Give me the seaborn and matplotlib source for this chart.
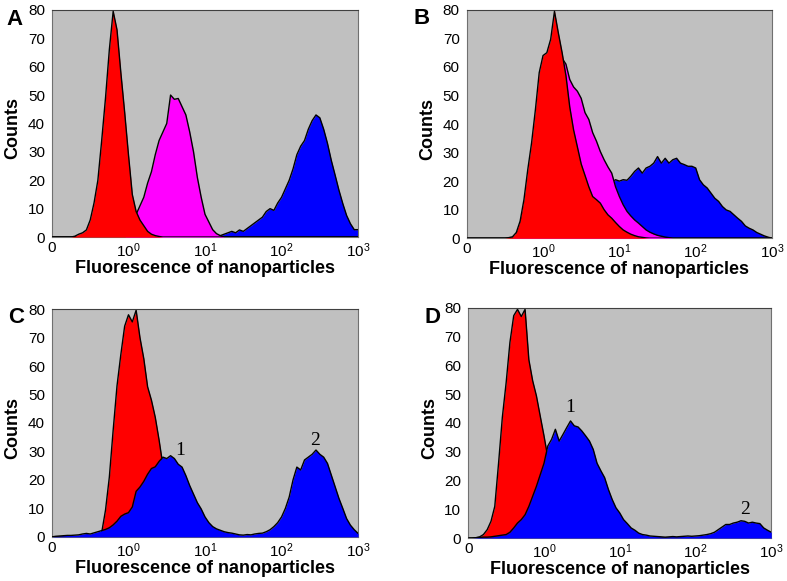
import numpy as np
import matplotlib
matplotlib.use("Agg")
import matplotlib.pyplot as plt
import seaborn as sns

# channel positions: log10 of fluorescence, -1 (shown as "0") to 3
log_channel = np.linspace(-1, 3, 81)
fluor = 10 ** log_channel

# ---- panel A ----
a_red = [0, 0, 0, 0, 0, 0, 0.3, 1, 1.5, 2.5,
         6, 12, 20, 34, 49, 66, 79.5, 73, 58, 44,
         29, 15, 9, 6, 4, 2, 1, 0.5, 0.2, 0,
         0, 0, 0, 0, 0, 0, 0, 0, 0, 0,
         0, 0, 0, 0, 0, 0, 0, 0, 0, 0,
         0, 0, 0, 0, 0, 0, 0, 0, 0, 0,
         0, 0, 0, 0, 0, 0, 0, 0, 0, 0,
         0, 0, 0, 0, 0, 0, 0, 0, 0, 0,
         0]
a_magenta = [0, 0, 0, 0, 0, 0, 0, 0, 0, 0,
             0, 0, 0, 0, 0, 0, 0, 0, 0, 0,
             0.5, 3, 8, 11, 14, 19, 23, 29, 34, 37,
             40, 50, 48.5, 48.8, 45.9, 43, 37, 30, 21, 14,
             8, 5.3, 2.6, 1.2, 0.5, 0, 0, 0, 0, 0,
             0, 0, 0, 0, 0, 0, 0, 0, 0, 0,
             0, 0, 0, 0, 0, 0, 0, 0, 0, 0,
             0, 0, 0, 0, 0, 0, 0, 0, 0, 0,
             0]
a_blue = [0, 0, 0, 0, 0, 0, 0, 0, 0, 0,
          0, 0, 0, 0, 0, 0, 0, 0, 0, 0,
          0, 0, 0, 0, 0, 0, 0, 0, 0, 0,
          0, 0, 0, 0, 0, 0, 0, 0, 0, 0,
          0, 0, 0, 0.3, 0.5, 1, 1.5, 2, 1.5, 2.5,
          2, 3, 4, 5, 6, 7, 9, 10, 9.4, 12,
          14, 17, 20, 24, 29, 32, 34, 38, 41, 43,
          42, 38, 33, 27, 21.8, 16.5, 11.8, 7.6, 4.7, 2.6,
          2.6]

# ---- panel B ----
b_red = [0, 0, 0, 0, 0, 0, 0, 0, 0, 0,
         0, 0.2, 0.5, 2, 6, 13.5, 24, 33.4, 45, 58,
         64, 65, 69.7, 79.5, 72, 65, 57, 46, 38, 32,
         26, 22, 18, 14.6, 13.5, 12.3, 10, 8.2, 7, 5.5,
         4.1, 2.9, 2.1, 1.4, 0.9, 0.5, 0.3, 0.1, 0, 0,
         0, 0, 0, 0, 0, 0, 0, 0, 0, 0,
         0, 0, 0, 0, 0, 0, 0, 0, 0, 0,
         0, 0, 0, 0, 0, 0, 0, 0, 0, 0,
         0]
b_magenta = [0, 0, 0, 0, 0, 0, 0, 0, 0, 0,
             0, 0, 0, 1, 4, 10, 18, 27, 36, 44,
             50, 54, 57, 59, 62, 63, 61, 55.6, 53, 51.5,
             49, 44, 41.6, 37, 34, 30.4, 27.5, 25, 22.8, 18,
             14.6, 11.7, 9.4, 7.8, 6.4, 5.3, 4.1, 2.9, 2.1, 1.5,
             1.0, 0.7, 0.4, 0.2, 0, 0, 0, 0, 0, 0,
             0, 0, 0, 0, 0, 0, 0, 0, 0, 0,
             0, 0, 0, 0, 0, 0, 0, 0, 0, 0,
             0]
b_blue = [0, 0, 0, 0, 0, 0, 0, 0, 0, 0,
          0, 0, 0, 0, 0, 0, 0.5, 1, 1.5, 2,
          3, 4, 5, 6, 7, 8, 9, 10, 11, 12,
          13, 14, 15, 16, 17, 18, 18.5, 19, 19.5, 20.5,
          20, 20.5, 20.3, 21.7, 23.4, 24.6, 22.8, 24.6, 25.2, 26.3,
          28.6, 26.3, 28, 26.3, 27.5, 28, 26.3, 25.8, 25.2, 25.2,
          24.6, 20.5, 18.7, 17.6, 15.8, 14, 12.9, 11.1, 9.9, 9.4,
          8.2, 7, 5.9, 4.3, 3.5, 2.9, 2, 1.4, 0.8, 0.35,
          0]

# ---- panel C ----
c_red = [0, 0, 0, 0, 0, 0, 0, 0, 0, 0,
         0, 0, 0.3, 1.5, 9.4, 21, 37.5, 53, 64, 74,
         78, 75.5, 79.6, 70, 62.6, 52.7, 48, 42, 34, 25,
         17, 10, 5, 2, 1, 0, 0, 0, 0, 0,
         0, 0, 0, 0, 0, 0, 0, 0, 0, 0,
         0, 0, 0, 0, 0, 0, 0, 0, 0, 0,
         0, 0, 0, 0, 0, 0, 0, 0, 0, 0,
         0, 0, 0, 0, 0, 0, 0, 0, 0, 0,
         0]
c_blue = [0, 0.2, 0.3, 0.4, 0.5, 0.5, 0.6, 0.7, 1.0, 1.2,
          1.0, 1.4, 1.8, 2.2, 2.6, 3.2, 4.2, 5.5, 7.2, 8.0,
          8.5, 10.5, 16, 17.5, 19.5, 22, 24, 24.6, 26.5, 28,
          27.5, 28.5, 27.5, 25.5, 24.5, 21.5, 18, 15, 12, 9.8,
          7, 5, 3.6, 2.8, 2.3, 1.8, 1.5, 1.3, 1.0, 0.7,
          0.6, 0.8, 0.7, 1.0, 1.2, 1.3, 1.8, 2.5, 3.6, 5,
          7, 10, 14, 20, 24.5, 23.5, 27, 28, 29, 30.5,
          29, 28, 25.8, 21.7, 17.6, 13.5, 10, 6.4, 4.1, 2.5,
          1.2]

# ---- panel D ----
d_red = [0, 0, 0.1, 0.4, 1.2, 2.9, 5.8, 11, 26, 42,
         54, 68, 77.3, 79.5, 77, 79.5, 62, 54.7, 49.4, 42.4,
         35.5, 28, 20, 13, 8, 4, 2, 1, 0.5, 0,
         0, 0, 0, 0, 0, 0, 0, 0, 0, 0,
         0, 0, 0, 0, 0, 0, 0, 0, 0, 0,
         0, 0, 0, 0, 0, 0, 0, 0, 0, 0,
         0, 0, 0, 0, 0, 0, 0, 0, 0, 0,
         0, 0, 0, 0, 0, 0, 0, 0, 0, 0,
         0]
d_blue = [0, 0, 0.1, 0.2, 0.3, 0.3, 0.4, 0.6, 0.8, 1.0,
          1.2, 2, 3.5, 5.2, 6.4, 8.1, 11, 14.5, 18, 22,
          26, 32, 34.3, 37.8, 33.7, 36, 38.4, 40.7, 39, 38.6,
          37.2, 35.5, 33.7, 30.8, 26, 23.4, 21, 16.9, 13.4, 10.5,
          8.7, 6.4, 5, 3.5, 2.7, 1.7, 1.2, 1.0, 0.7, 0.6,
          0.5, 0.4, 0.3, 0.4, 0.5, 0.4, 0.5, 0.6, 0.7, 0.6,
          0.7, 0.8, 1.0, 1.2, 1.5, 2, 2.9, 3.8, 4.7, 4.7,
          5.2, 5.5, 6, 5.8, 5.2, 5.5, 5.2, 5, 3.5, 2.7,
          2]

tick_pos = [0.1, 1, 10, 100, 1000]
tick_labels = ['0', '$10^0$', '$10^1$', '$10^2$', '$10^3$']

RED, MAG, BLUE = '#ff0000', '#ff00ff', '#0000ff'

# (letter, axes rect, series back-to-front, peak labels)
panels = [
    ('A', [0.066, 0.592, 0.389, 0.391],
     [(a_blue, BLUE), (a_magenta, MAG), (a_red, RED)], []),
    ('B', [0.593, 0.590, 0.388, 0.393],
     [(b_blue, BLUE), (b_magenta, MAG), (b_red, RED)], []),
    ('C', [0.066, 0.076, 0.389, 0.392],
     [(c_red, RED), (c_blue, BLUE)], [('1', 0.672, 30.5), ('2', 2.44, 34)]),
    ('D', [0.595, 0.074, 0.385, 0.396],
     [(d_red, RED), (d_blue, BLUE)], [('1', 0.344, 45.5), ('2', 2.657, 10)]),
]
letter_pos = {'A': (0.019, 0.966), 'B': (0.536, 0.969),
              'C': (0.020, 0.454), 'D': (0.549, 0.454)}

sns.set_style('white')
plt.rcParams['font.family'] = ['Liberation Sans', 'DejaVu Sans']
plt.rcParams['mathtext.fontset'] = 'custom'
plt.rcParams['mathtext.rm'] = 'Liberation Sans'
plt.rcParams['mathtext.it'] = 'Liberation Sans:italic'
plt.rcParams['text.color'] = 'black'
plt.rcParams['axes.labelcolor'] = 'black'
plt.rcParams['xtick.labelcolor'] = 'black'
plt.rcParams['ytick.labelcolor'] = 'black'

fig = plt.figure(figsize=(7.87, 5.81), dpi=100)

for letter, rect, series, peaks in panels:
    ax = fig.add_axes(rect)
    ax.set_facecolor('#c0c0c0')
    ax.set_xscale('log')
    for k, (vals, col) in enumerate(series):
        z = 2 + k
        ax.fill_between(fluor, vals, 0, color=col, lw=0, zorder=z)
        sns.lineplot(x=fluor, y=vals, color='black', lw=1.0, ax=ax,
                     estimator=None, sort=False, zorder=z + 0.5)
    for txt, lx, ly in peaks:
        ax.text(10 ** lx, ly, txt, ha='center', va='center', fontsize=14,
                family=['Liberation Serif', 'DejaVu Serif'], zorder=10)
    ax.set_xlim(0.1, 1000)
    ax.set_ylim(0, 80)
    ax.set_xticks(tick_pos)
    ax.set_xticklabels(tick_labels)
    ax.xaxis.set_minor_locator(matplotlib.ticker.NullLocator())
    ax.set_yticks(range(0, 81, 10))
    ax.tick_params(axis='both', labelsize=11, length=2, width=0.8,
                   color='#555555', labelcolor='black', direction='out', pad=3)
    ax.tick_params(axis='x', pad=1)
    for sp in ax.spines.values():
        sp.set_color('#707070')
        sp.set_linewidth(0.8)
    ax.spines['top'].set_color('#404040')
    ax.set_xlabel('Fluorescence of nanoparticles', fontsize=13,
                  fontweight='bold', color='black')
    ax.set_ylabel('Counts', fontsize=13, fontweight='bold', color='black')
    ax.xaxis.set_label_coords(0.5, -0.1)
    ax.yaxis.set_label_coords(-0.1, 0.48)
    fig.text(letter_pos[letter][0], letter_pos[letter][1], letter,
             fontsize=16, fontweight='bold', ha='center', va='center',
             color='black')

fig.savefig('out.png', dpi=100, facecolor='white')
